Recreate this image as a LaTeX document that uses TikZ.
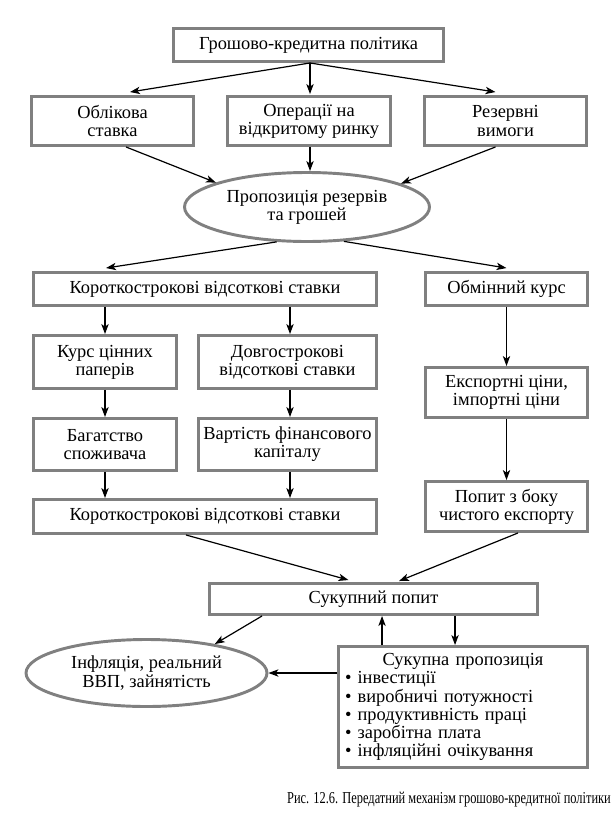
\documentclass[tikz,border=0pt]{standalone}
\usepackage{fontspec}
\setmainfont{Liberation Serif}
\newfontfamily\capfont[FakeStretch=0.745]{Liberation Serif}
\usetikzlibrary{arrows.meta,shapes.geometric,calc}
\definecolor{boxgray}{RGB}{128,128,128}
\newcommand{\myfs}{\fontsize{13.8}{13.6}\selectfont}
\begin{document}
\begin{tikzpicture}[x=0.75pt,y=-0.75pt,
  box/.style={draw=boxgray,line width=2.2pt,rectangle,align=center,inner sep=0pt,font=\myfs},
  oval/.style={draw=boxgray,line width=2.2pt,ellipse,align=center,inner sep=0pt,font=\myfs},
  sz/.style 2 args={minimum width=#1*0.75pt,minimum height=#2*0.75pt},
  arr/.style={-{Stealth[length=7.5pt,width=5.5pt,inset=2pt]},line width=0.9pt,black},
]
\useasboundingbox (0,0) rectangle (614,814);

\node[box,sz={270}{33}] (top) at (308.5,45) {Грошово-кредитна політика};
\node[box,sz={162}{49}] (obl) at (112.5,121) {Облікова\\ставка};
\node[box,sz={163}{49}] (oper) at (309,121) {Операції на\\відкритому ринку};
\node[box,sz={162}{49}] (rez) at (505.5,121) {Резервні\\вимоги};
\node[oval,sz={245}{69}] (ell) at (307,207) {Пропозиція резервів\\та грошей};
\node[box,sz={343}{33}] (kor1) at (205,289) {Короткострокові відсоткові ставки};
\node[box,sz={162}{33}] (obm) at (506.5,289) {Обмінний курс};
\node[box,sz={143}{53}] (kurs) at (105,362) {Курс цінних\\паперів};
\node[box,sz={178}{53}] (dovg) at (287.5,362) {Довгострокові\\відсоткові ставки};
\node[box,sz={162}{50}] (eksp) at (506.5,392.5) {Експортні ціни,\\імпортні ціни};
\node[box,sz={143}{52}] (bag) at (105,444.5) {Багатство\\споживача};
\node[box,sz={178}{52}] (vart) at (287.5,444.5) {Вартість фінансового\\капіталу};
\node[box,sz={343}{34}] (kor2) at (205,516.5) {Короткострокові відсоткові ставки};
\node[box,sz={162}{50}] (popyt) at (506.5,506.5) {Попит з боку\\чистого експорту};
\node[box,sz={328}{31}] (sp) at (373.5,599) {Сукупний попит};
\node[oval,sz={241}{67}] (inf) at (146.5,673) {Інфляція, реальний\\ВВП, зайнятість};
\node[box,sz={249}{121},text width=236*0.75pt,align=left] (spr) at (463,707)
  {{\centering Сукупна пропозиція\par}%
   • інвестиції\\
   • виробничі потужності\\
   • продуктивність праці\\
   • заробітна плата\\
   • інфляційні очікування};
\node[font=\capfont\fontsize{12.5}{14}\selectfont,inner sep=0pt] (cap) at (449,800) {Рис. 12.6. Передатний механізм грошово-кредитної політики};

% arrows
\draw[arr] ($(top.south)+(1.5,0)$) -- ($(obl.north)+(17.5,-3)$);
\draw[arr] ($(top.south)+(1.5,0)$) -- ($(oper.north)+(1,-1)$);
\draw[arr] ($(top.south)+(1.5,0)$) -- ($(rez.north)+(-10,-3)$);
\draw[arr] ($(obl.south)+(13.5,0)$) -- (ell.165);
\draw[arr] ($(oper.south)+(1,0)$) -- ($(ell.north)+(3,0)$);
\draw[arr] ($(rez.south)+(-10,0)$) -- (ell.14);
\draw[arr] (ell.229) -- ($(kor1.north)+(-99,-3)$);
\draw[arr] (ell.317) -- ($(obm.north)+(0,-3)$);
\draw[arr] (kurs.north |- kor1.south) -- (kurs.north);
\draw[arr] ($(dovg.north |- kor1.south)+(2.5,0)$) -- ($(dovg.north)+(2.5,0)$);
\draw[arr] (obm.south) -- (eksp.north);
\draw[arr] (kurs.south) -- (bag.north);
\draw[arr] ($(dovg.south)+(2.5,0)$) -- ($(vart.north)+(2.5,0)$);
\draw[arr] (eksp.south) -- (popyt.north);
\draw[arr] (bag.south) -- (bag.south |- kor2.north);
\draw[arr] ($(vart.south)+(2.5,0)$) -- ($(vart.south |- kor2.north)+(2.5,0)$);
\draw[arr] ($(kor2.south)+(-19,0)$) -- ($(sp.north)+(-25,-2)$);
\draw[arr] ($(popyt.south)+(11.5,0)$) -- ($(sp.north)+(25.5,-1)$);
\draw[arr] ($(sp.south west)+(54,0)$) -- (inf.23);
\coordinate (u1) at ($(spr.north west)+(45,0)$);
\coordinate (d1) at ($(spr.north west)+(118,0)$);
\draw[arr] (u1) -- (u1 |- sp.south);
\draw[arr] (d1 |- sp.south) -- (d1);
\draw[arr] (spr.west |- inf.east) -- (inf.east);
\end{tikzpicture}
\end{document}
